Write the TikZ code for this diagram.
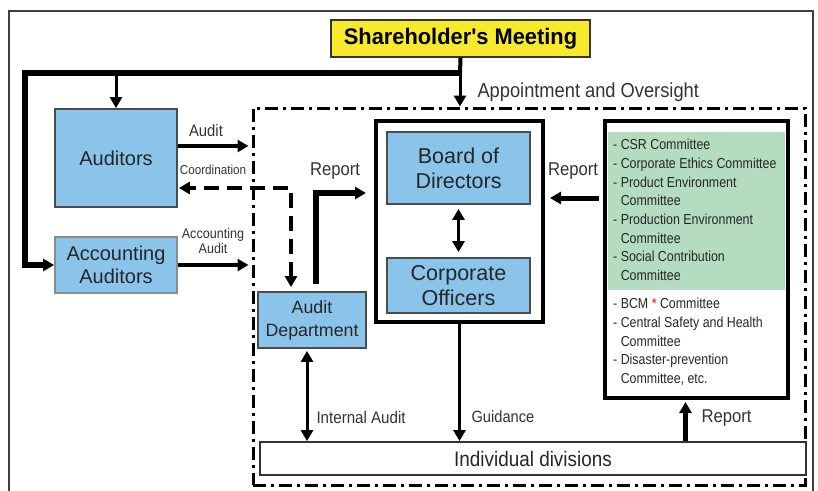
\documentclass[tikz,border=0pt]{standalone}
\usepackage{fontspec}
\setmainfont{Liberation Sans}
\newfontfamily\narrowfont[FakeStretch=0.9]{Liberation Sans}
\newfontfamily\listfont[FakeStretch=0.855]{Liberation Sans}
\newfontfamily\headfont[FakeStretch=0.97]{Liberation Sans}
\usetikzlibrary{positioning}
\usetikzlibrary{arrows.meta}
\tikzset{>={Triangle[length=11pt,width=12pt]}}
\definecolor{boxblue}{RGB}{138,196,234}
\definecolor{meetyellow}{RGB}{247,234,42}
\definecolor{cmtgreen}{RGB}{180,220,192}
\tikzset{
  bluebox/.style={draw=black!70, line width=1.8pt, fill=boxblue, text=black!85, align=center, inner sep=0pt},
  lbl/.style={text=black!80, font=\narrowfont},
  trunk/.style={line width=6pt},
  dashdot frame/.style={draw, line width=3pt, dash pattern=on 13pt off 5pt on 3pt off 5pt, minimum width=552pt, minimum height=377pt, inner sep=0pt},
}

\begin{document}
\begin{tikzpicture}[x=1pt,y=-1pt]
\useasboundingbox (0,0) rectangle (818,490);
\draw [black!75, line width=1.3pt] (9,492) -- (9,11) -- (813,11) -- (813,492);

\node (GF) [dashdot frame] at (529,296.5) {};
\node (SM) [draw=black!80, line width=1.8pt, fill=meetyellow, minimum width=259pt, minimum height=37pt, font=\headfont\bfseries\fontsize{22.5}{26}\selectfont] at (460.5,38.5) {Shareholder's Meeting};

\node (AU) [bluebox, minimum width=122pt, minimum height=98pt, font=\fontsize{20}{23}\selectfont] at (116,158) {Auditors};
\node (AA) [bluebox, draw=black!45, minimum width=122pt, minimum height=56pt, font=\fontsize{20}{23}\selectfont] at (116,265) {Accounting\\Auditors};
\node (AD) [bluebox, minimum width=108pt, minimum height=56pt, font=\fontsize{17.8}{23}\selectfont] at (312,320) {Audit\\Department};

\node (BO) [draw, line width=4pt, minimum width=167pt, minimum height=201pt] at (459.5,221.5) {};
\node (BD) [bluebox, minimum width=143pt, minimum height=72pt, font=\fontsize{21.5}{25}\selectfont] at (458.5,168) {Board of\\Directors};
\node (CO) [bluebox, minimum width=143pt, minimum height=55pt, font=\fontsize{21.5}{25}\selectfont] at (458.5,285.5) {Corporate\\Officers};

\node (CM) [draw, line width=4pt, minimum width=183pt, minimum height=277pt] at (696.5,259.5) {};
\fill [cmtgreen] (608,132) rectangle (785,290);
\node (CMT) [anchor=north west, align=left, inner sep=0pt, text=black!85, font=\listfont\fontsize{14.5}{18.7}\selectfont] at (613,139) {%
- CSR Committee\\
- Corporate Ethics Committee\\
- Product Environment\\
\hphantom{- }Committee\\
- Production Environment\\
\hphantom{- }Committee\\
- Social Contribution\\
\hphantom{- }Committee\\[9.3pt]
- BCM {\color{red}*} Committee\\
- Central Safety and Health\\
\hphantom{- }Committee\\
- Disaster-prevention\\
\hphantom{- }Committee, etc.};

\node (ID) [draw=black!80, line width=1.8pt, fill=white, minimum width=546pt, minimum height=33pt, text=black!85, font=\narrowfont\fontsize{21}{24}\selectfont] at (533,458.5) {Individual divisions};

% appointment lines
\coordinate (J) at (460,73);
\coordinate (corner) at (25,73);
\draw [line width=4pt] (SM.south) -- (J);
\draw [trunk, ->] ([xshift=2pt]J) -- (corner) |- (AA.west);
\draw [line width=3pt, ->] (AU.north |- corner) -- (AU.north);
\draw [line width=3pt, ->] (J) -- (J |- GF.north);
\node (AO) [lbl, anchor=west, font=\narrowfont\fontsize{20.3}{24}\selectfont] at (474,92) {Appointment and Oversight};

% auditors side
\draw [line width=4pt, ->] ([yshift=12pt]AU.east) -- ([yshift=12pt,xshift=-3pt]AU.east -| GF.west);
\node (la) [lbl, font=\narrowfont\fontsize{16.5}{18}\selectfont] at (206,131) {Audit};
\node (lc) [lbl, font=\narrowfont\fontsize{13}{14}\selectfont] at (213,170) {Coordination};
\draw [line width=4pt, dash pattern=on 15pt off 8pt, <->] ([xshift=-21pt,yshift=4pt]AD.north) |- ([yshift=-30pt,xshift=1pt]AU.east);
\draw [line width=4pt, ->] (AA.east) -- ([xshift=-3pt]AA.east -| GF.west);
\node (laa) [lbl, align=center, font=\narrowfont\fontsize{14}{15}\selectfont] at (213,241) {Accounting\\Audit};

% reports
\draw [line width=6pt, ->] ([xshift=4pt,yshift=7pt]AD.north) |- ([xshift=-8pt,yshift=28.5pt]BO.west);
\node (lr1) [lbl, font=\narrowfont\fontsize{18.5}{20}\selectfont] at (335,171) {Report};
\draw [line width=5pt, ->] ([xshift=-4pt,yshift=61.5pt]CM.west) -- ([xshift=5pt,yshift=23.5pt]BO.east);
\node (lr2) [lbl, font=\narrowfont\fontsize{18.5}{20}\selectfont] at (573,171) {Report};
\draw [line width=3pt, <->] ([yshift=-4pt]BD.south) -- ([yshift=5pt]CO.north);

% downwards
\draw [line width=3pt, ->] (BO.south) -- (BO.south |- ID.north);
\node (lg) [lbl, anchor=west, font=\narrowfont\fontsize{16.3}{18}\selectfont] at (468,417) {Guidance};
\draw [line width=3pt, <->] ([xshift=-5pt,yshift=-2pt]AD.south) -- ([xshift=-5pt]AD.south |- ID.north);
\node (li) [lbl, anchor=west, font=\narrowfont\fontsize{16.8}{18}\selectfont] at (313,417) {Internal Audit};
\draw [line width=5pt, ->] ([xshift=-11pt]CM.south |- ID.north) -- ([xshift=-11pt,yshift=-2pt]CM.south);
\node (lr3) [lbl, anchor=west, font=\narrowfont\fontsize{18.5}{20}\selectfont] at (698,418) {Report};
\end{tikzpicture}
\end{document}
